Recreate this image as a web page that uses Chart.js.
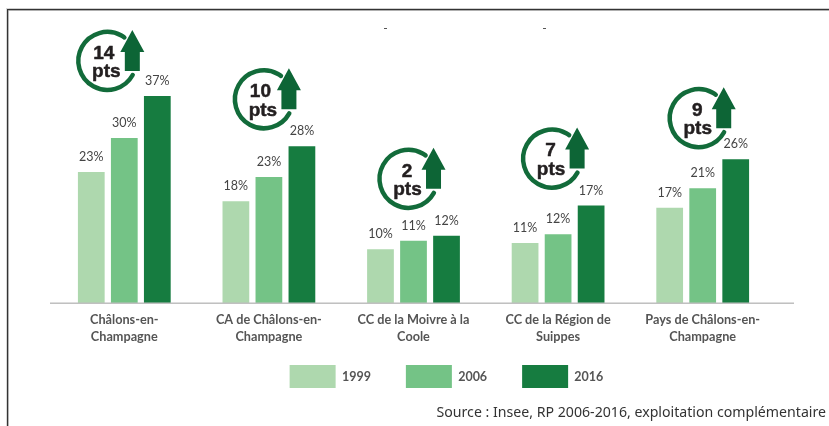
<!DOCTYPE html>
<html><head><meta charset="utf-8">
<style>html,body{margin:0;padding:0;background:#fff}#w{position:relative;width:829px;height:426px}canvas{display:block}</style>
<script src="https://cdn.jsdelivr.net/npm/chart.js@4"></script>
</head><body><div id="w"><canvas id="c" width="829" height="426"></canvas></div>
<script>
const categories = [["Châlons-en-","Champagne"],["CA de Châlons-en-","Champagne"],["CC de la Moivre à la","Coole"],["CC de la Région de","Suippes"],["Pays de Châlons-en-","Champagne"]];
const years = ["1999","2006","2016"];
const values1999 = [23.4,18.2,9.6,10.7,17];
const values2006 = [29.5,22.5,11.1,12.3,20.5];
const values2016 = [37,28,12,17.4,25.7];
const shownLabels1999 = ["23%","18%","10%","11%","17%"];
const shownLabels2006 = ["30%","23%","11%","12%","21%"];
const shownLabels2016 = ["37%","28%","12%","17%","26%"];
const gainPoints = ["14","10","2","7","9"];
const colors = ["#aed8ae","#74c386","#167c40"];
const badgeDx = [-50,-38,-38,-39,-37];
const badgeDy = [-35,-47,-57,-47,-41];
const shown = [shownLabels1999,shownLabels2006,shownLabels2016];

const overlay = {
  id:'overlay',
  afterLayout(chart){
    const l = chart.legend; const shift = 33;
    l.left += shift; l.right += shift;
    l.top = 365 - l.options.labels.padding; l.bottom = l.top + l.height;
  },
  beforeDraw(chart){
    const c = chart.ctx;
    c.save();
    c.fillStyle='#fff'; c.fillRect(0,0,chart.width,chart.height);
    c.fillStyle='#cfcfcf'; c.fillRect(7,8,chart.width-7,3);
    c.fillStyle='#d8d8d8'; c.fillRect(6,8,3,chart.height-8);
    c.fillStyle='#333'; c.fillRect(7,9,chart.width-7,1.2); c.fillRect(7,9,1.2,chart.height-9);
    c.fillStyle='#555'; c.fillRect(384,28,3,1); c.fillRect(543,28,3,1);
    c.restore();
  },
  afterDatasetsDraw(chart){
    const c = chart.ctx, a = chart.chartArea;
    c.save();
    c.fillStyle='#bfbfbf'; c.fillRect(a.left-2,a.bottom-0.5,a.right-a.left+21,1.5);
    c.textAlign='center'; c.textBaseline='middle';
    c.font='12.5px Lato'; c.fillStyle='#444';
    chart.data.datasets.forEach((d,i)=>{
      chart.getDatasetMeta(i).data.forEach((b,j)=>{
        c.fillText(shown[i][j], b.x, b.y-15);
      });
    });
    const last = chart.getDatasetMeta(2).data;
    last.forEach((b,j)=>{
      const x=b.x+badgeDx[j], y=b.y+badgeDy[j];
      c.strokeStyle='#126b3a'; c.lineWidth=4.5; c.lineCap='round';
      c.beginPath(); c.arc(x,y,29,29*Math.PI/180,-54*Math.PI/180); c.stroke();
      c.fillStyle='#0d6536';
      c.beginPath();
      c.moveTo(x+25,y-31); c.lineTo(x+37,y-9); c.lineTo(x+32.5,y-9); c.lineTo(x+32.5,y+10);
      c.lineTo(x+17.5,y+10); c.lineTo(x+17.5,y-9); c.lineTo(x+13,y-9); c.closePath(); c.fill();
      c.fillStyle='#231f20'; c.strokeStyle='#231f20'; c.lineWidth=0.5; c.lineJoin='round';
      c.font='bold 19px "Liberation Sans"';
      const nx = x-(gainPoints[j].length>1?3.5:1.5);
      c.fillText(gainPoints[j], nx, y-7.5); c.strokeText(gainPoints[j], nx, y-7.5);
      c.fillText('pts', x-1, y+11); c.strokeText('pts', x-1, y+11);
    });
    c.textAlign='right'; c.font='14.15px "Noto Sans"'; c.fillStyle='#333';
    c.fillText('Source : Insee, RP 2006-2016, exploitation complémentaire', 826, 413);
    c.restore();
  }
};

new Chart(document.getElementById('c'),{
  type:'bar',
  data:{labels:categories,datasets:[
    {label:years[0],data:values1999,backgroundColor:colors[0]},
    {label:years[1],data:values2006,backgroundColor:colors[1]},
    {label:years[2],data:values2016,backgroundColor:colors[2]}
  ]},
  plugins:[overlay],
  options:{
    responsive:false,animation:false,
    datasets:{bar:{categoryPercentage:0.685,barPercentage:0.81}},
    layout:{padding:{left:52,right:54,top:12,bottom:12}},
    scales:{
      x:{grid:{display:false},border:{display:false},
         ticks:{maxRotation:0,autoSkip:false,padding:1,color:'#555',font:{family:'Lato',size:12.7,weight:'bold',lineHeight:1.3}}},
      y:{display:false,min:0,max:52}
    },
    plugins:{
      tooltip:{enabled:false},
      legend:{position:'bottom',labels:{boxWidth:46,boxHeight:23,padding:35,color:'#555',font:{family:'Lato',size:12.5,weight:'bold'}}}
    }
  }
});
</script></body></html>
